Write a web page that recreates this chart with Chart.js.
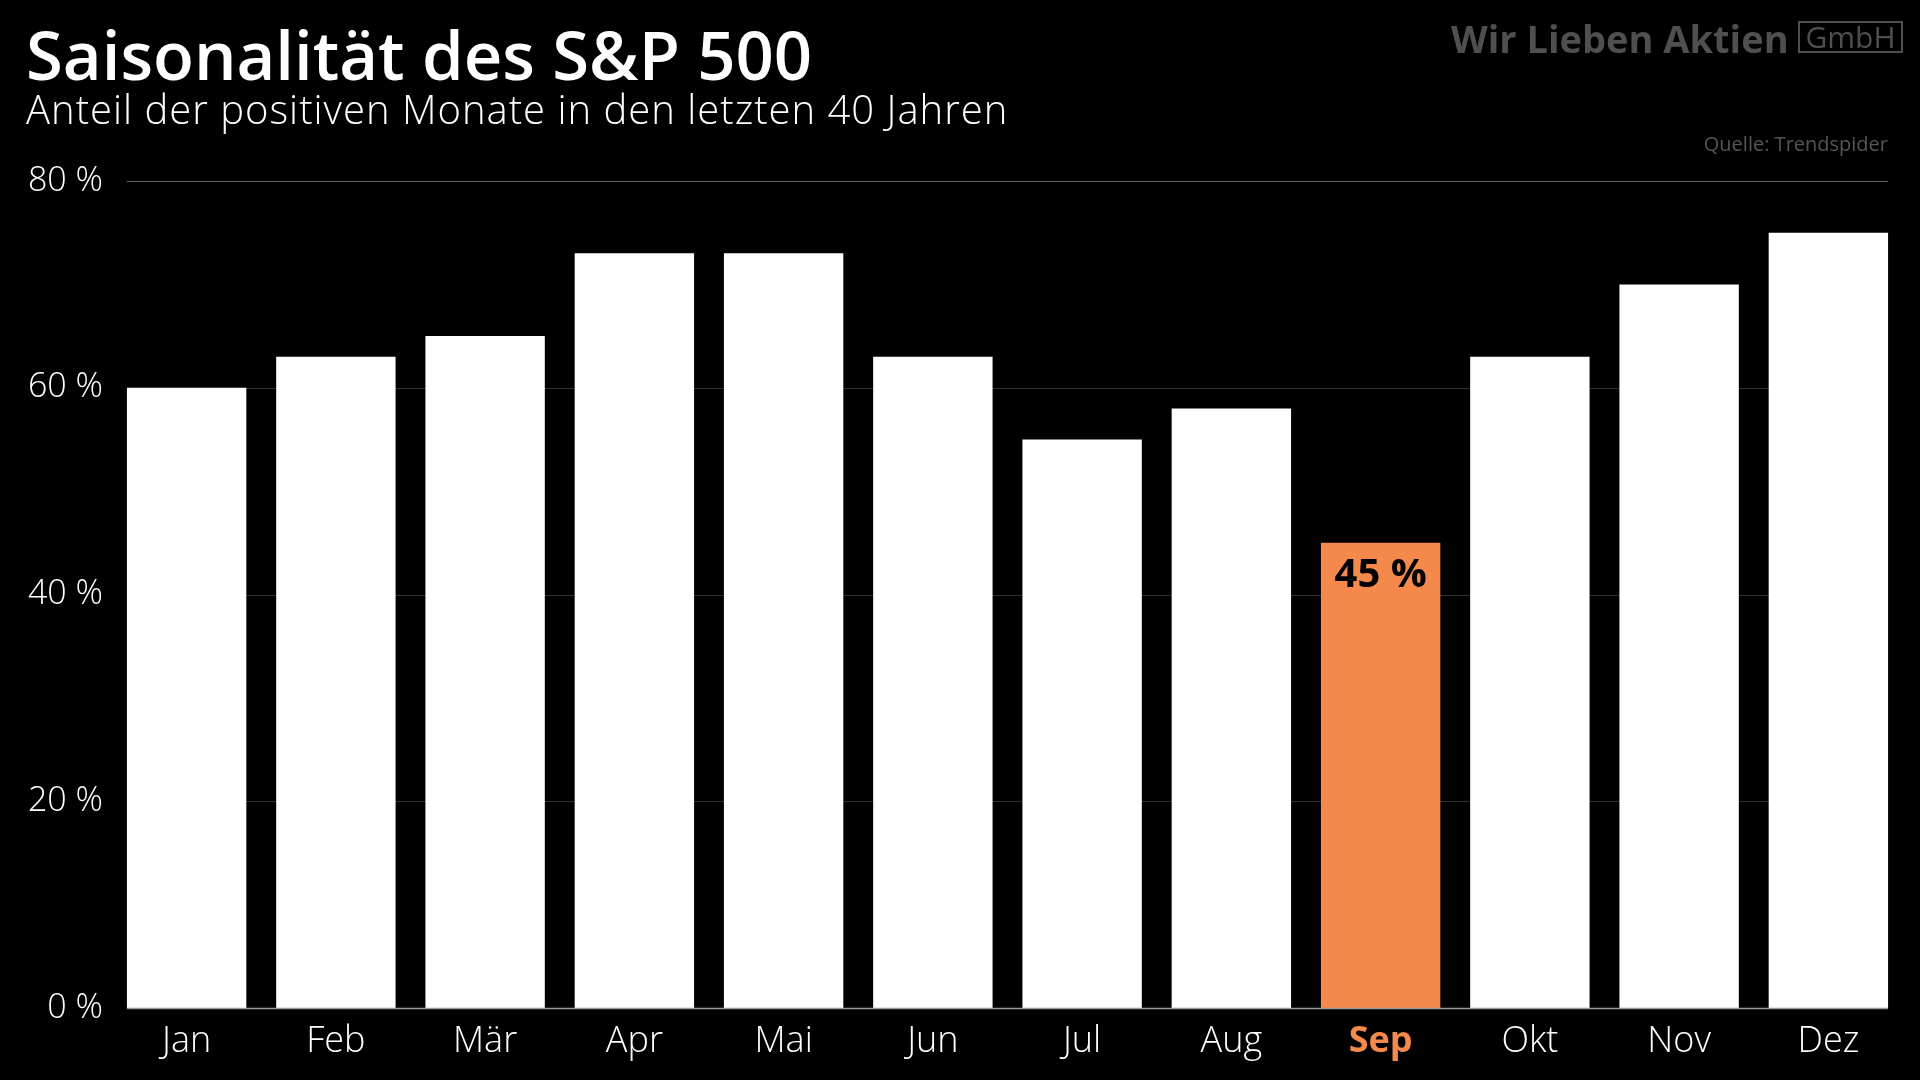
<!DOCTYPE html>
<html>
<head>
<meta charset="utf-8">
<script src="https://cdn.jsdelivr.net/npm/chart.js@4.4.1/dist/chart.umd.min.js"></script>
<style>
  html, body { margin: 0; padding: 0; background: #000; width: 1920px; height: 1080px; overflow: hidden; }
  #wrap { position: relative; width: 1920px; height: 1080px; }
  #chart { position: absolute; left: 0; top: 0; }
  .t { position: absolute; white-space: nowrap; font-family: 'Open Sans', sans-serif; line-height: 1; }
  #title { left: 26px; top: 21px; font-size: 67px; font-weight: 600; color: #fff; }
  #subtitle { left: 26px; top: 89px; font-size: 40px; font-weight: 300; color: #fff; letter-spacing: 1px; }
  #logo { left: 1451px; top: 19px; font-size: 38px; font-weight: 700; color: #4f4f4f; letter-spacing: 0px; }
  #gmbh { left: 1798px; top: 21px; width: 101px; height: 28px; border: 2px solid #4f4f4f; color: #4f4f4f;
          font-size: 30px; font-weight: 500; text-align: center; line-height: 28px; }
  #source { right: 32px; top: 134px; font-size: 20px; font-weight: 400; color: #555; }
</style>
</head>
<body>
<div id="wrap">
  <canvas id="chart" width="1920" height="1080"></canvas>
  <div class="t" id="title">Saisonalität des S&amp;P 500</div>
  <div class="t" id="subtitle">Anteil der positiven Monate in den letzten 40 Jahren</div>
  <div class="t" id="logo">Wir Lieben Aktien</div>
  <div class="t" id="gmbh">GmbH</div>
  <div class="t" id="source">Quelle: Trendspider</div>
</div>
<script>
const months = ['Jan', 'Feb', 'Mär', 'Apr', 'Mai', 'Jun', 'Jul', 'Aug', 'Sep', 'Okt', 'Nov', 'Dez'];
const positiveShare = [60, 63, 65, 73, 73, 63, 55, 58, 45, 63, 70, 75];
const yTicks = [0, 20, 40, 60, 80];
const highlightMonth = 'Sep';
const highlightLabel = '45 %';

const ORANGE = '#F5884B';
const FONT = "'Open Sans', sans-serif";
const hi = months.indexOf(highlightMonth);

const gridPlugin = {
  id: 'customGrid',
  beforeDatasetsDraw(chart) {
    const meta = chart.getDatasetMeta(0);
    const first = meta.data[0], last = meta.data[meta.data.length - 1];
    const x0 = first.x - first.width / 2, x1 = last.x + last.width / 2;
    const y = chart.scales.y;
    const ctx = chart.ctx;
    ctx.save();
    yTicks.forEach(v => {
      if (v === 0) return;
      const py = Math.round(y.getPixelForValue(v)) + 0.5;
      ctx.strokeStyle = v === 80 ? '#5c5c5c' : '#303030';
      ctx.lineWidth = 1.2;
      ctx.beginPath(); ctx.moveTo(x0, py); ctx.lineTo(x1, py); ctx.stroke();
    });
    ctx.restore();
  },
  afterDatasetsDraw(chart) {
    const meta = chart.getDatasetMeta(0);
    const first = meta.data[0], last = meta.data[meta.data.length - 1];
    const x0 = first.x - first.width / 2, x1 = last.x + last.width / 2;
    const y = chart.scales.y;
    const ctx = chart.ctx;
    ctx.save();
    const py = Math.round(y.getPixelForValue(0)) + 0.5;
    ctx.strokeStyle = '#9a9a9a';
    ctx.lineWidth = 1.5;
    ctx.beginPath(); ctx.moveTo(x0, py); ctx.lineTo(x1, py); ctx.stroke();
    // highlight label
    const bar = meta.data[hi];
    ctx.fillStyle = '#000';
    ctx.font = "700 40px " + FONT;
    ctx.textAlign = 'center';
    ctx.textBaseline = 'alphabetic';
    ctx.fillText(highlightLabel, bar.x, bar.y + 44);
    ctx.restore();
  }
};

new Chart(document.getElementById('chart'), {
  type: 'bar',
  data: {
    labels: months,
    datasets: [{
      data: positiveShare,
      backgroundColor: ctx => ctx.dataIndex === hi ? ORANGE : '#ffffff',
      borderWidth: 0,
      categoryPercentage: 1.0,
      barPercentage: 0.8
    }]
  },
  options: {
    responsive: false,
    animation: false,
    devicePixelRatio: 1,
    layout: { padding: { left: 0, right: 17, top: 181, bottom: 0 } },
    plugins: { legend: { display: false }, tooltip: { enabled: false }, title: { display: false } },
    scales: {
      x: {
        grid: { display: false },
        border: { display: false },
        ticks: {
          color: c => c.index === hi ? ORANGE : '#ffffff',
          font: c => ({ family: FONT, size: 36, weight: c.index === hi ? '700' : '300' }),
          padding: 4,
          maxRotation: 0
        },
        afterFit: s => { s.height = 72; }
      },
      y: {
        min: 0, max: 80,
        grid: { display: false },
        border: { display: false },
        afterBuildTicks: s => { s.ticks = yTicks.map(v => ({ value: v })); },
        ticks: {
          color: '#ffffff',
          font: { family: FONT, size: 34, weight: '300' },
          padding: 1,
          callback: v => v + ' %'
        },
        afterFit: s => { s.width = 112; }
      }
    }
  },
  plugins: [gridPlugin]
});
</script>
</body>
</html>
